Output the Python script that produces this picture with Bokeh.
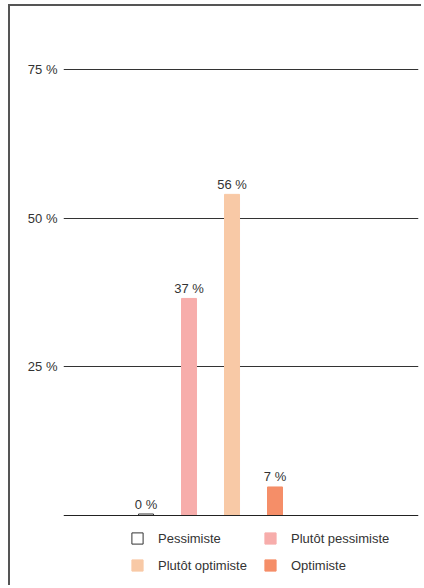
from bokeh.plotting import figure
from bokeh.models import Range1d, FixedTicker, Legend, LegendItem, ColumnDataSource, Span
from bokeh.core.properties import value
from bokeh.embed import file_html
from bokeh.resources import INLINE

# Data
categories = ["Pessimiste", "Plutôt pessimiste", "Plutôt optimiste", "Optimiste"]
label_values = [0, 37, 56, 7]           # values printed above the bars (%)
bar_heights = [0.25, 36.5, 54.0, 4.8]   # bar heights as drawn (%)
colors = ["#ffffff", "#f7adab", "#f8c9a6", "#f58e68"]
line_colors = ["#333333", "#f7adab", "#f8c9a6", "#f58e68"]
y_ticks = [25, 50, 75]
y_tick_labels = ["25 %", "50 %", "75 %"]

FONT = "Liberation Sans"

p = figure(width=413, height=581, output_backend="svg", toolbar_location=None,
           x_range=Range1d(-1.919, 6.337), y_range=Range1d(-12.107, 83.91),
           min_border_left=53, min_border_right=5, min_border_top=10, min_border_bottom=0)
p.styles = {"border-left": "2px solid #555555", "border-top": "2px solid #555555",
            "margin-left": "8px", "margin-top": "4px"}
p.outline_line_color = None
p.background_fill_color = "white"
p.border_fill_color = "white"

src = ColumnDataSource(dict(
    x=list(range(len(categories))),
    h=bar_heights,
    lab=[f"{v} %" for v in label_values],
))

renderers = []
for i, c in enumerate(categories):
    r = p.vbar(x=[i], top=[bar_heights[i]], bottom=0, width=0.349, fill_color=colors[i],
               line_color=line_colors[i], line_width=1)
    renderers.append(r)

p.text(x="x", y="h", text="lab", source=src, text_align="center", text_baseline="middle",
       y_offset=-10, text_font=value(FONT), text_font_size="13px", text_color="#333333")

# baseline at 0 %
p.add_layout(Span(location=0, dimension="width", line_color="#222222", line_width=1))

# axes
p.xaxis.visible = False
p.xgrid.visible = False

p.yaxis.ticker = FixedTicker(ticks=y_ticks)
p.yaxis.major_label_overrides = dict(zip(y_ticks, y_tick_labels))
p.yaxis.axis_line_color = None
p.yaxis.major_tick_line_color = None
p.yaxis.minor_tick_line_color = None
p.yaxis.major_tick_out = 0
p.yaxis.major_tick_in = 0
p.yaxis.major_label_standoff = 6
p.yaxis.major_label_text_font = FONT
p.yaxis.major_label_text_font_size = "13px"
p.yaxis.major_label_text_color = "#333333"
p.ygrid.ticker = FixedTicker(ticks=y_ticks)
p.ygrid.grid_line_color = "#333333"
p.ygrid.grid_line_width = 1

legend = Legend(items=[LegendItem(label=c, renderers=[r]) for c, r in zip(categories, renderers)],
                location=(67, 12), orientation="horizontal", ncols=2,
                glyph_width=14, glyph_height=14, label_standoff=14, label_width=98,
                label_text_font=FONT, label_text_font_size="13px", label_text_color="#333333",
                label_height=20, spacing=7, padding=0, margin=0,
                border_line_color=None, background_fill_alpha=0)
p.add_layout(legend, "center")

open("out.html", "w").write(file_html(p, INLINE))
